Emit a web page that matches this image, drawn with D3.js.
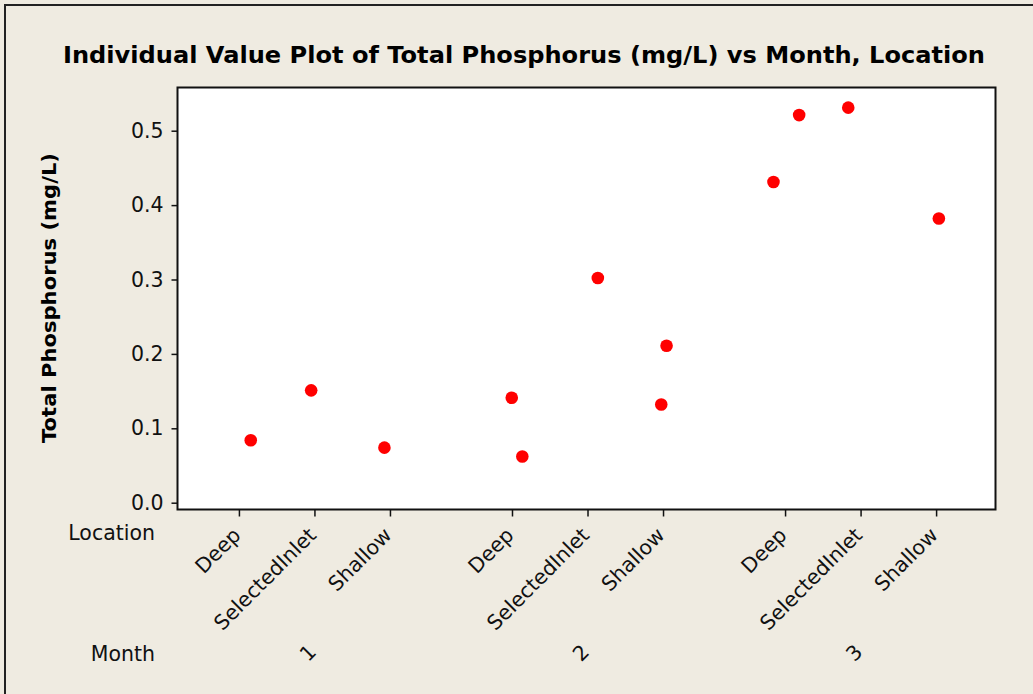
<!DOCTYPE html>
<html><head><meta charset="utf-8">
<script src="https://cdn.jsdelivr.net/npm/d3@7"></script>
<style>body{margin:0;background:#EFEBE1;}svg{display:block;}</style>
</head><body>
<svg id="c" width="1033" height="694"></svg>
<script>
const months = ["1","2","3"];
const locations = ["Deep","SelectedInlet","Shallow"];
// observations: month, location, value, horizontal jitter (fraction of tick spacing)
const obsMonth    = ["1","1","1","2","2","2","2","2","3","3","3","3"];
const obsLocation = ["Deep","SelectedInlet","Shallow","Deep","Deep","SelectedInlet","Shallow","Shallow","Deep","Deep","SelectedInlet","Shallow"];
const obsValue    = [0.084,0.151,0.074,0.141,0.062,0.302,0.211,0.132,0.431,0.521,0.531,0.382];
const obsJitter   = [0.15,-0.05,-0.08,-0.01,0.13,0.13,0.04,-0.03,-0.16,0.18,-0.17,0.03];
const yTicks = [0.0,0.1,0.2,0.3,0.4,0.5];

const svg = d3.select("#c");
const W=1033,H=694;
svg.append("rect").attr("x",0).attr("y",0).attr("width",W).attr("height",H).attr("fill","#EFEBE1");
// outer frame
svg.append("rect").attr("x",5).attr("y",5).attr("width",W+10).attr("height",H+10)
  .attr("fill","none").attr("stroke","#222").attr("stroke-width",2);

const L=177.5,R=995.5,T=87.5,B=509.5;
const groupStep=3.616;
const pos=(m,l)=>months.indexOf(m)*groupStep+locations.indexOf(l);
const x=d3.scaleLinear().domain([-0.82,2*groupStep+2.78]).range([L,R]);
const y=d3.scaleLinear().domain([0,0.5]).range([502.7,130.7]);

svg.append("rect").attr("x",L).attr("y",T).attr("width",R-L).attr("height",B-T)
  .attr("fill","#fff").attr("stroke","#111").attr("stroke-width",2);

const font="DejaVu Sans, Verdana, sans-serif";

// title
svg.append("text").attr("x",524).attr("y",63).attr("text-anchor","middle")
  .attr("font-family",font).attr("font-weight","bold").attr("font-size",23)
  .attr("textLength",922).attr("lengthAdjust","spacingAndGlyphs")
  .attr("fill","#000").text("Individual Value Plot of Total Phosphorus (mg/L) vs Month, Location");

// y axis
const yAxis=d3.axisLeft(y).tickValues(yTicks).tickFormat(d3.format(".1f")).tickSize(6).tickPadding(8);
const ga=svg.append("g").attr("transform",`translate(${L},0)`).call(yAxis);
ga.select(".domain").remove();
ga.selectAll("line").attr("stroke","#111").attr("stroke-width",1.5);
ga.selectAll("text").attr("font-family",font).attr("font-size",20.5).attr("fill","#111");

svg.append("text").attr("transform","translate(56,298) rotate(-90)").attr("text-anchor","middle")
  .attr("font-family",font).attr("font-weight","bold").attr("font-size",20)
  .attr("textLength",290).attr("lengthAdjust","spacingAndGlyphs")
  .attr("fill","#000").text("Total Phosphorus (mg/L)");

// x axis ticks
const cats=[];
months.forEach(m=>locations.forEach(l=>cats.push({m,l})));
const gx=svg.append("g");
gx.selectAll("line").data(cats).join("line")
  .attr("x1",d=>x(pos(d.m,d.l))).attr("x2",d=>x(pos(d.m,d.l)))
  .attr("y1",B).attr("y2",B+7).attr("stroke","#111").attr("stroke-width",1.5);
gx.selectAll("text").data(cats).join("text")
  .attr("transform",d=>`translate(${x(pos(d.m,d.l))-8},526) rotate(-45)`)
  .attr("text-anchor","end").attr("dy","0.72em")
  .attr("font-family",font).attr("font-size",20.5).attr("fill","#111").text(d=>d.l);

svg.append("g").selectAll("text").data(months).join("text")
  .attr("transform",m=>`translate(${x(pos(m,"SelectedInlet"))-7},653) rotate(-45)`)
  .attr("text-anchor","middle").attr("dominant-baseline","central")
  .attr("font-family",font).attr("font-size",20.5).attr("fill","#111").text(m=>m);

svg.append("text").attr("x",155).attr("y",540).attr("text-anchor","end")
  .attr("font-family",font).attr("font-size",20.5).attr("fill","#111").text("Location");
svg.append("text").attr("x",155).attr("y",661).attr("text-anchor","end")
  .attr("font-family",font).attr("font-size",20.5).attr("fill","#111").text("Month");

// points
const pts=obsValue.map((v,i)=>({m:obsMonth[i],l:obsLocation[i],v,j:obsJitter[i]}));
svg.append("g").selectAll("circle").data(pts).join("circle")
  .attr("cx",d=>x(pos(d.m,d.l)+d.j)).attr("cy",d=>y(d.v)).attr("r",6.3).attr("fill","#FF0000");
</script>
</body></html>
